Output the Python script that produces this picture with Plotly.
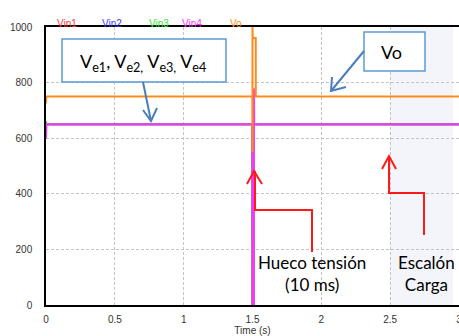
import plotly.graph_objects as go

# ---- data ----
series_names = ["Vin1", "Vin2", "Vin3", "Vin4", "Vo"]
series_colors = ["#ff3b3b", "#3b3bff", "#33e633", "#ff33ff", "#ff8c1a"]

t_vin1 = [0.0, 0.001, 1.4995, 1.5, 1.5095, 1.51, 3.0]
vin1 = [600, 650, 650, 0, 0, 650, 650]
t_vin2 = [0.0, 0.001, 1.4995, 1.5, 1.5095, 1.51, 3.0]
vin2 = [600, 650, 650, 0, 0, 650, 650]
t_vin3 = [0.0, 0.001, 1.4995, 1.5, 1.509, 1.5095, 1.5115, 1.512, 3.0]
vin3 = [662, 650, 650, 0, 0, 770, 770, 650, 650]
t_vin4 = [0.0, 0.001, 1.4995, 1.5, 1.5095, 1.51, 1.5105, 1.511, 1.512, 3.0]
vin4 = [600, 650, 650, 0, 0, 780, 340, 340, 650, 650]
t_vo = [0.0, 0.002, 1.499, 1.4995, 1.5, 1.5005, 1.502, 1.5235, 1.524, 3.0]
vo = [725, 750, 750, 550, 1000, 1000, 960, 960, 750, 750]

x_ticks = [0, 0.5, 1, 1.5, 2, 2.5, 3]
x_tick_text = ["0", "0.5", "1", "1.5", "2", "2.5", "3"]
y_ticks = [0, 200, 400, 600, 800, 1000]

W, H = 459, 336
ML, MR, MT, MB = 46, 0, 27, 31
X0, X1, Y0, Y1 = 0.0, 3.0, 0.0, 1000.0
PW, PH = W - ML - MR, H - MT - MB


def dx(px):
    return X0 + (px - ML) / PW * (X1 - X0)


def dy(py):
    return Y0 + (H - MB - py) / PH * (Y1 - Y0)


fig = go.Figure()
for name, col, tt, vv in [
    ("Vin1", series_colors[0], t_vin1, vin1),
    ("Vin2", series_colors[1], t_vin2, vin2),
    ("Vin3", series_colors[2], t_vin3, vin3),
    ("Vin4", series_colors[3], t_vin4, vin4),
    ("Vo", series_colors[4], t_vo, vo),
]:
    fig.add_trace(go.Scatter(x=tt, y=vv, mode="lines", name=name,
                             line=dict(color=col, width=2), showlegend=False))

shapes = []
# shaded load-step region
shapes.append(dict(type="rect", xref="x", yref="paper", x0=2.5, x1=dx(453), y0=0, y1=1,
                   fillcolor="#f3f5fb", line=dict(width=0), layer="below"))


def path(pts):
    s = "M " + " L ".join(f"{dx(a)},{dy(b)}" for a, b in pts)
    return s


blue = "#4a7ebb"
red = "#ff1a1a"
# boxes
shapes.append(dict(type="rect", xref="x", yref="y", x0=dx(62), x1=dx(226), y0=dy(82), y1=dy(39),
                   fillcolor="white", line=dict(color="#5b9bd5", width=1.5)))
shapes.append(dict(type="rect", xref="x", yref="y", x0=dx(364), x1=dx(425), y0=dy(71), y1=dy(32),
                   fillcolor="white", line=dict(color="#5b9bd5", width=1.5)))
# blue arrows
shapes.append(dict(type="path", path=path([(143, 82), (151, 121)]), line=dict(color=blue, width=2)))
shapes.append(dict(type="path", path=path([(143, 110), (151, 121), (157, 108)]), line=dict(color=blue, width=2)))
shapes.append(dict(type="path", path=path([(364, 51), (331, 91)]), line=dict(color=blue, width=2)))
shapes.append(dict(type="path", path=path([(332, 77), (331, 91), (346, 87)]), line=dict(color=blue, width=2)))
# red arrows
shapes.append(dict(type="path", path=path([(312, 252), (312, 210), (255, 210), (255, 171)]), line=dict(color=red, width=2)))
shapes.append(dict(type="path", path=path([(247, 184), (254, 171), (262, 184)]), line=dict(color=red, width=2)))
shapes.append(dict(type="path", path=path([(424, 235), (424, 193), (389, 193), (389, 157)]), line=dict(color=red, width=2)))
shapes.append(dict(type="path", path=path([(382, 169), (389, 156), (396, 169)]), line=dict(color=red, width=2)))

annotations = []
legend_x = [55, 100, 147, 192, 236]
for name, col, px in zip(series_names, series_colors, legend_x):
    annotations.append(dict(text=name, x=(px - ML) / PW, y=(H - MB - 16) / PH, xref="paper", yref="paper",
                            showarrow=False, font=dict(family="Liberation Sans, Arial", size=10, color=col)))

big = dict(family="Lato, Carlito, Calibri, sans-serif", size=18, color="black")
mid = dict(family="Lato, Carlito, Calibri, sans-serif", size=17, color="black")
annotations.append(dict(text="V<sub>e1</sub>, V<sub>e2,</sub> V<sub>e3,</sub> V<sub>e4</sub>",
                        x=dx(143), y=dy(62), xref="x", yref="y", showarrow=False, font=big))
annotations.append(dict(text="Vo", x=dx(391), y=dy(52), xref="x", yref="y", showarrow=False, font=big))
annotations.append(dict(text="Hueco tensión<br>(10 ms)", x=dx(312), y=dy(273), xref="x", yref="y",
                        showarrow=False, font=mid, align="center"))
annotations.append(dict(text="Escalón<br>Carga", x=dx(426), y=dy(273), xref="x", yref="y",
                        showarrow=False, font=mid, align="center"))

tickfont = dict(family="Liberation Sans, Arial", size=10, color="#333333")
fig.update_layout(
    width=W, height=H,
    margin=dict(l=ML, r=MR, t=MT, b=MB, pad=0, autoexpand=False),
    paper_bgcolor="white", plot_bgcolor="white",
    shapes=shapes, annotations=annotations,
    xaxis=dict(range=[X0, X1], tickvals=x_ticks, ticktext=x_tick_text, tickfont=tickfont,
               showgrid=True, gridcolor="#c4c4c4", griddash="3px,2px", gridwidth=1,
               showline=True, linecolor="black", linewidth=1.5, mirror=True, zeroline=False,
               ticks="", ticklabelstandoff=4, automargin=False, ticklabeloverflow="allow",
               title=dict(text="Time (s)", font=dict(family="Liberation Sans, Arial", size=10, color="#333333"),
                          standoff=2)),
    yaxis=dict(range=[Y0, Y1], tickvals=y_ticks, tickfont=tickfont,
               showgrid=True, gridcolor="#c4c4c4", griddash="3px,2px", gridwidth=1,
               showline=True, linecolor="black", linewidth=1.5, zeroline=False,
               ticks="", ticklabelstandoff=10, automargin=False),
)

fig.write_html("out.html", config={"displayModeBar": False},
               post_script="document.body.style.margin='0';document.body.style.overflow='hidden';")
